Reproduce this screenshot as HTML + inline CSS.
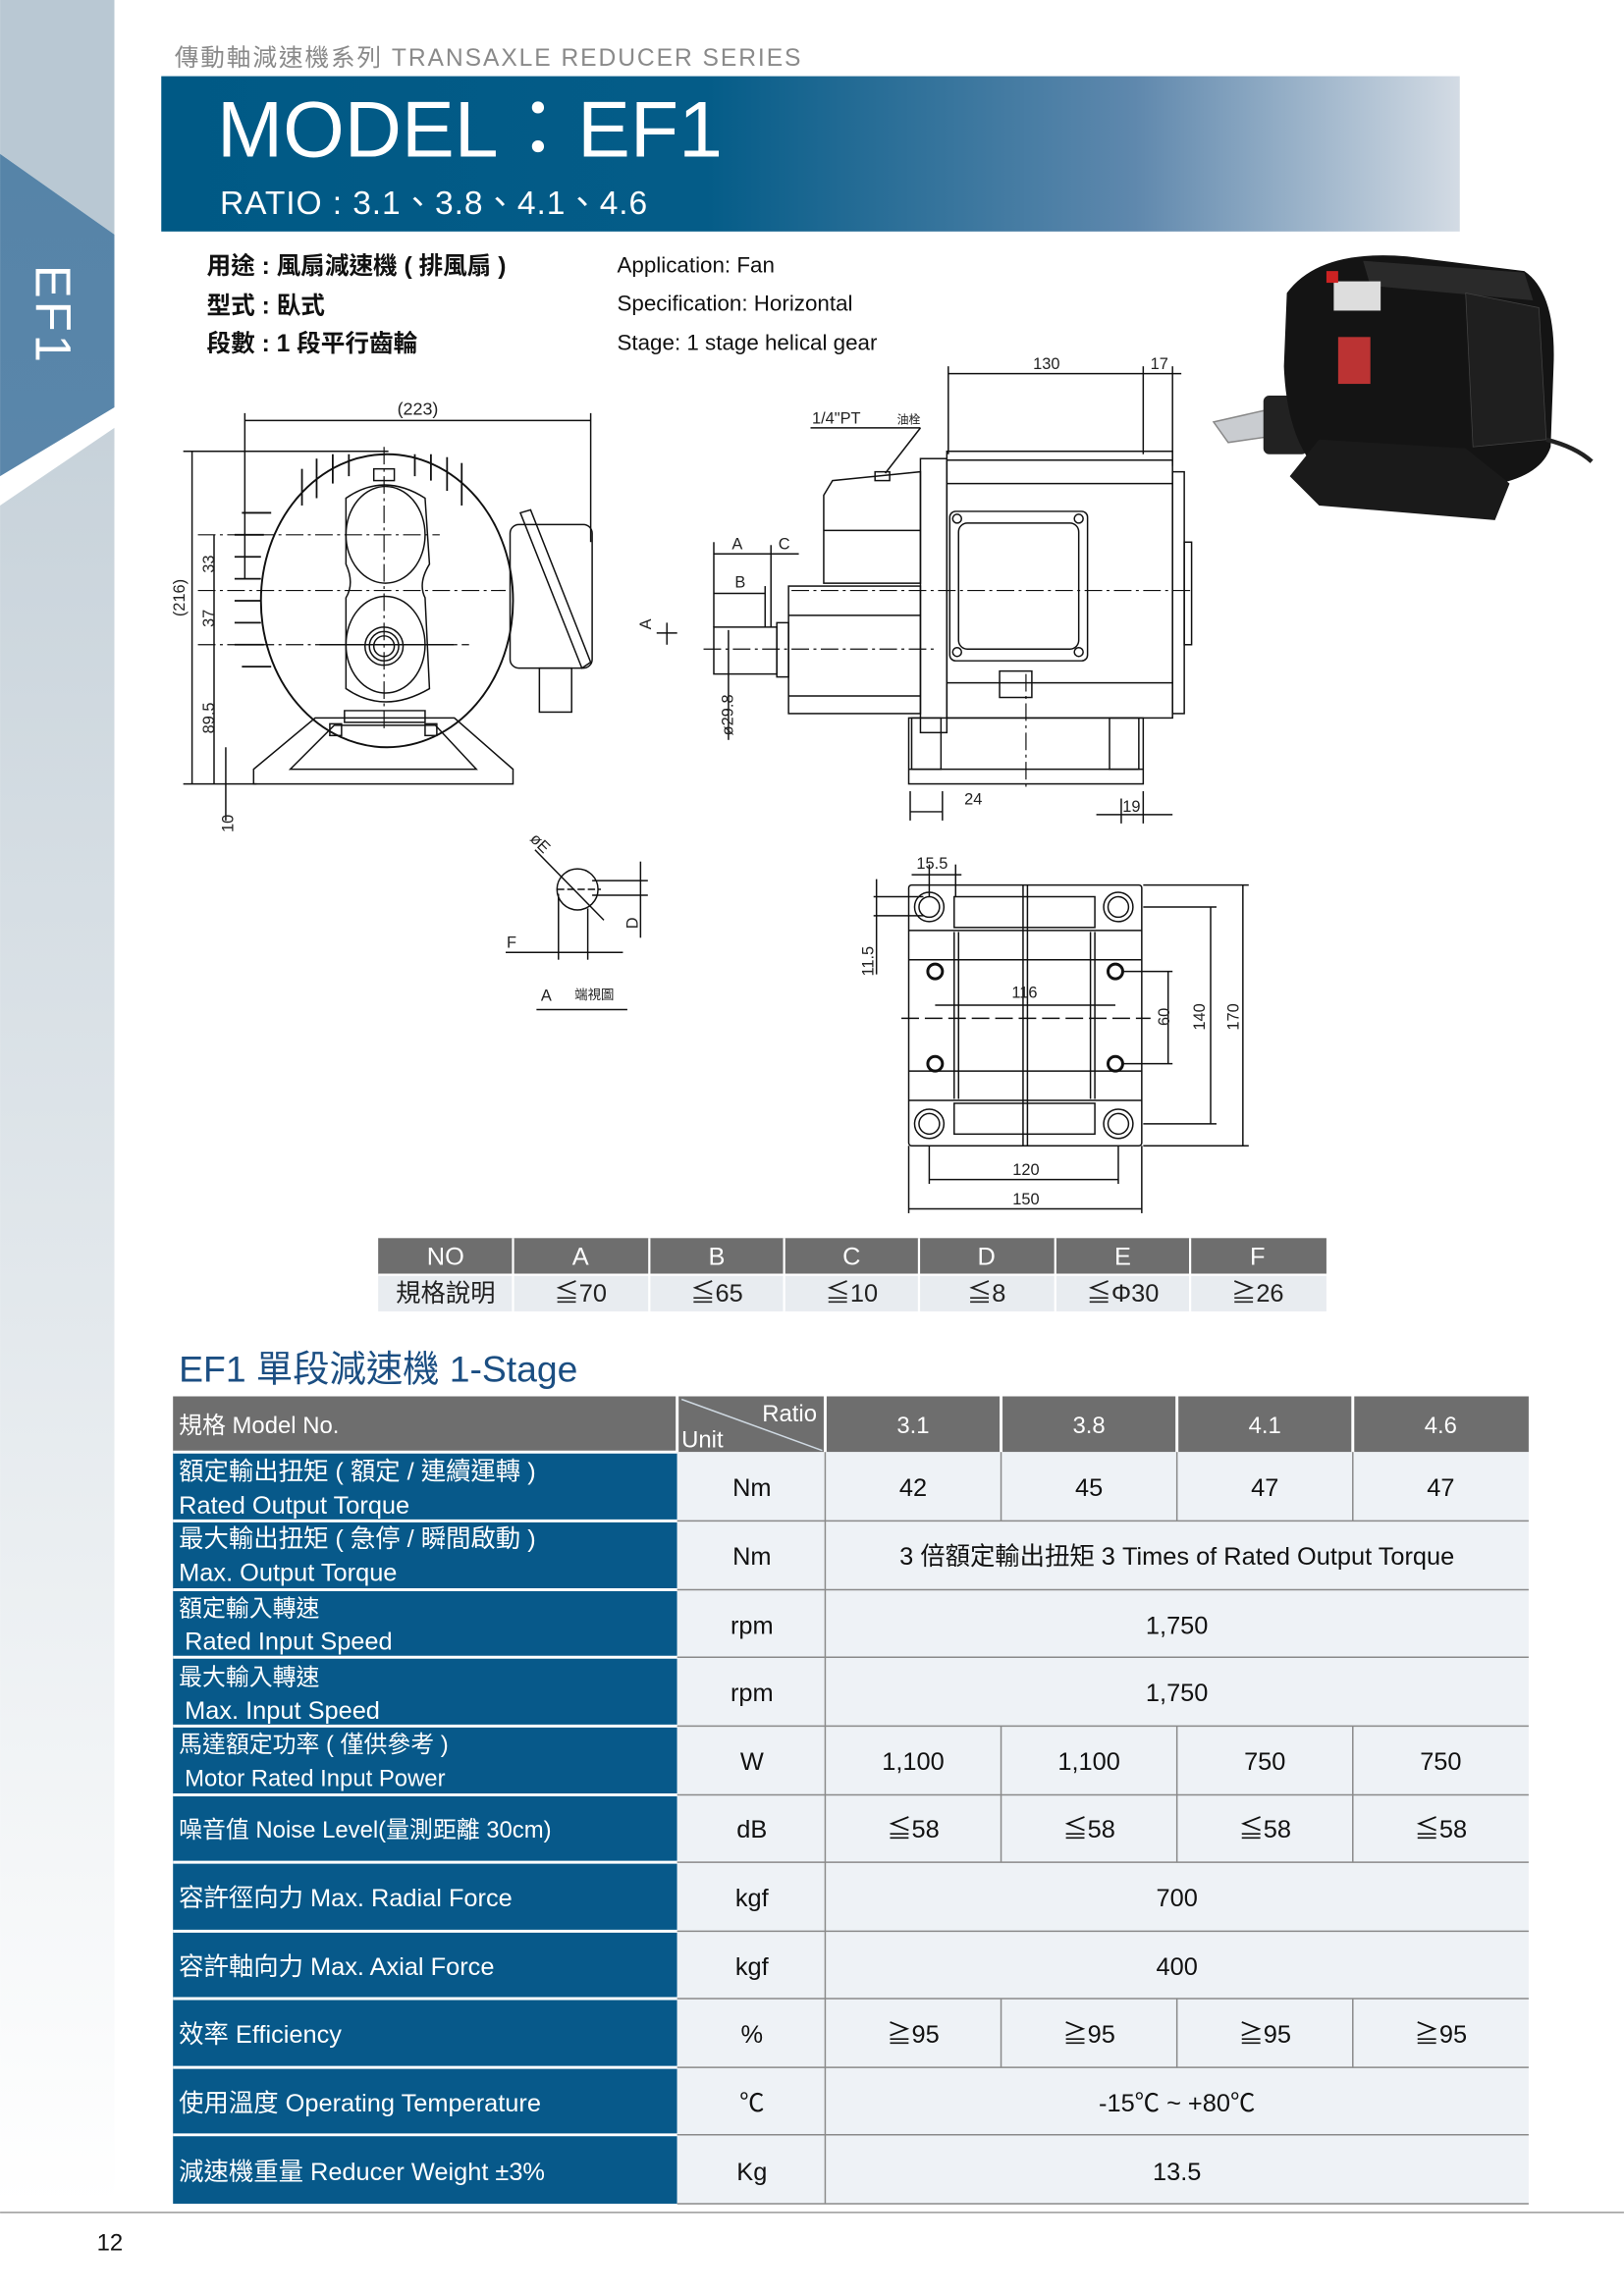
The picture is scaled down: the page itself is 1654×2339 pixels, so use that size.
<!DOCTYPE html>
<html><head><meta charset="utf-8"><style>
html,body{margin:0;padding:0;background:#fff}
svg{display:block}
text{font-family:"Liberation Sans","Noto Sans CJK TC",sans-serif}
</style></head><body>
<svg width="1654" height="2339" viewBox="0 0 1108 1567" xmlns="http://www.w3.org/2000/svg">
<defs>
<linearGradient id="ban" x1="0" x2="1" y1="0" y2="0">
<stop offset="0" stop-color="#005985"/><stop offset="0.42" stop-color="#045c88"/><stop offset="0.75" stop-color="#5f88ad"/><stop offset="1" stop-color="#d3dbe4"/></linearGradient>
<linearGradient id="side" x1="0" x2="0" y1="0" y2="1">
<stop offset="0" stop-color="#c7d2da"/><stop offset="1" stop-color="#ffffff"/></linearGradient>
<linearGradient id="sideb" x1="0" x2="0" y1="0" y2="1">
<stop offset="0" stop-color="#5684a8"/><stop offset="1" stop-color="#5a86aa"/></linearGradient>
</defs>
<polygon points="0,0 78,0 78,160 0,105" fill="#b9c8d3"/>
<polygon points="0,105 78,160 78,278 0,325" fill="url(#sideb)"/>
<polygon points="0,345 78,292 78,1505 0,1505" fill="url(#side)"/>
<text transform="translate(36,215) rotate(90)" font-size="34" fill="#fff" text-anchor="middle" dominant-baseline="central" letter-spacing="2">EF1</text>

<text x="119" y="45" font-size="16.5" fill="#8a8a8a" letter-spacing="1.3">傳動軸減速機系列 TRANSAXLE REDUCER SERIES</text>
<rect x="110" y="52" width="886" height="106" fill="url(#ban)"/>
<text x="148" y="107" font-size="54" fill="#fff">MODEL：EF1</text>
<text x="150" y="146" font-size="22.5" fill="#fff" letter-spacing="0.6">RATIO : 3.1、3.8、4.1、4.6</text>

<g font-size="16.5" font-weight="bold" fill="#111">
<text x="141" y="187">用途 : 風扇減速機 ( 排風扇 )</text>
<text x="141" y="214">型式 : 臥式</text>
<text x="141" y="240">段數 : 1 段平行齒輪</text>
</g>
<g font-size="15" fill="#111">
<text x="421" y="186">Application: Fan</text>
<text x="421" y="212">Specification: Horizontal</text>
<text x="421" y="239">Stage: 1 stage helical gear</text>
</g>

<g>
<path d="M828,288 L872,278 L880,296 L838,302 Z" fill="#c9ccd0" stroke="#888"/>
<rect x="862" y="270" width="30" height="40" rx="4" fill="#222"/>
<path d="M878,200 Q900,170 960,175 L1040,185 Q1062,200 1060,250 L1058,305 Q1050,330 1000,333 L900,322 Q878,300 876,250 Z" fill="#141414"/>
<path d="M930,178 L1040,186 L1046,205 L935,195 Z" fill="#2a2a2a"/>
<rect x="910" y="192" width="32" height="20" fill="#ddd"/>
<rect x="905" y="185" width="8" height="8" fill="#c22"/>
<rect x="913" y="230" width="22" height="32" fill="#b33"/>
<path d="M1000,200 L1050,210 L1055,300 L1005,305 Z" fill="#1f1f1f" stroke="#444" stroke-width="0.5"/>
<path d="M880,325 L900,300 L1000,306 L1030,330 L1020,355 L900,345 Z" fill="#1a1a1a"/>
<path d="M1055,300 Q1075,305 1086,315" stroke="#222" stroke-width="3" fill="none"/>
</g>

<g stroke="#111" stroke-width="1" fill="none">
<line x1="167" y1="287" x2="403" y2="287"/>
<line x1="167" y1="282" x2="167" y2="395"/><line x1="403" y1="282" x2="403" y2="370"/>
<text x="285" y="283" font-size="12" fill="#222" stroke="none" text-anchor="middle">(223)</text>
<g stroke-width="1.2">
<line x1="206" y1="320" x2="206" y2="345"/><line x1="216" y1="313" x2="216" y2="340"/><line x1="227" y1="310" x2="227" y2="330"/><line x1="238" y1="310" x2="238" y2="325"/><line x1="283" y1="310" x2="283" y2="325"/><line x1="294" y1="310" x2="294" y2="328"/><line x1="305" y1="312" x2="305" y2="335"/><line x1="315" y1="316" x2="315" y2="345"/>
<line x1="165" y1="350" x2="185" y2="350"/><line x1="160" y1="365" x2="180" y2="365"/><line x1="160" y1="380" x2="178" y2="380"/><line x1="160" y1="395" x2="178" y2="395"/><line x1="160" y1="410" x2="178" y2="410"/><line x1="160" y1="425" x2="178" y2="425"/><line x1="160" y1="440" x2="180" y2="440"/><line x1="165" y1="455" x2="185" y2="455"/>
</g>
<ellipse cx="264" cy="410" rx="86" ry="100" stroke-width="1.3"/>
<path d="M236,340 Q262,322 290,340 L293,385 Q285,398 290,408 L293,470 Q262,488 236,470 L236,408 Q242,398 236,385 Z"/>
<ellipse cx="263" cy="365" rx="27" ry="33"/>
<ellipse cx="263" cy="440" rx="27" ry="33"/>
<circle cx="262" cy="441" r="13"/><circle cx="262" cy="441" r="10"/><circle cx="262" cy="441" r="7"/>
<rect x="255" y="320" width="14" height="8"/>
<line x1="218" y1="440" x2="310" y2="440"/>
<rect x="348" y="358" width="56" height="98" rx="6"/>
<path d="M355,350 L362,348 L403,452 L397,456 Z"/>
<rect x="368" y="456" width="22" height="30"/>
<path d="M235,485 L290,485 L290,493 L235,493 Z"/>
<path d="M215,490 L310,490 L350,525 L350,535 L173,535 L173,525 Z"/>
<path d="M228,495 L297,495 L325,525 L198,525 Z"/>
<rect x="225" y="494" width="8" height="8"/><rect x="290" y="494" width="8" height="8"/>
<g stroke-dasharray="12,3,2,3" stroke-width="0.8">
<line x1="262" y1="305" x2="262" y2="500"/>
<line x1="135" y1="365" x2="300" y2="365"/>
<line x1="135" y1="403" x2="345" y2="403"/>
<line x1="135" y1="440" x2="320" y2="440"/>
</g>
<line x1="131" y1="308" x2="131" y2="535"/><line x1="125" y1="308" x2="265" y2="308"/>
<line x1="146" y1="365" x2="146" y2="535"/><line x1="125" y1="535" x2="175" y2="535"/>
<line x1="154" y1="510" x2="154" y2="560"/>
</g>
<g font-size="11" fill="#222" font-family="Liberation Mono,monospace">
<text transform="translate(126,408) rotate(-90)" text-anchor="middle">(216)</text>
<text transform="translate(146,385) rotate(-90)" text-anchor="middle">33</text>
<text transform="translate(146,422) rotate(-90)" text-anchor="middle">37</text>
<text transform="translate(146,490) rotate(-90)" text-anchor="middle">89.5</text>
<text transform="translate(159,562) rotate(-90)" text-anchor="middle">10</text>
</g>

<g stroke="#111" stroke-width="1" fill="none">
<line x1="647" y1="255" x2="780" y2="255"/><line x1="780" y1="255" x2="806" y2="255"/>
<line x1="647" y1="250" x2="647" y2="310"/><line x1="780" y1="250" x2="780" y2="310"/><line x1="800" y1="250" x2="800" y2="318"/>
<line x1="553" y1="292" x2="628" y2="292"/><line x1="628" y1="292" x2="604" y2="323"/>
<rect x="597" y="322" width="10" height="6"/>
<path d="M562,338 L568,328 L628,322 L628,398 L562,398 Z"/>
<line x1="562" y1="362" x2="628" y2="362"/>
<rect x="628" y="313" width="18" height="187"/>
<rect x="646" y="308" width="154" height="182"/>
<line x1="646" y1="314" x2="800" y2="314"/><line x1="646" y1="330" x2="800" y2="330"/><line x1="646" y1="466" x2="800" y2="466"/>
<rect x="648" y="349" width="94" height="102" rx="4"/><rect x="654" y="357" width="82" height="86" rx="6"/>
<circle cx="653" cy="354" r="3"/><circle cx="736" cy="354" r="3"/><circle cx="653" cy="445" r="3"/><circle cx="736" cy="445" r="3"/>
<rect x="800" y="322" width="8" height="165"/><rect x="808" y="370" width="5" height="70"/>
<rect x="538" y="400" width="90" height="87"/>
<line x1="538" y1="420" x2="628" y2="420"/><line x1="538" y1="475" x2="628" y2="475"/>
<rect x="530" y="425" width="8" height="37"/>
<rect x="487" y="428" width="43" height="32"/>
<rect x="682" y="458" width="22" height="18"/>
<rect x="620" y="490" width="160" height="45"/>
<line x1="620" y1="525" x2="780" y2="525"/><rect x="622" y="490" width="20" height="35"/><rect x="757" y="490" width="20" height="35"/>
<g stroke-dasharray="12,3,2,3" stroke-width="0.8">
<line x1="480" y1="443" x2="640" y2="443"/><line x1="540" y1="403" x2="815" y2="403"/><line x1="700" y1="460" x2="700" y2="540"/>
</g>
<line x1="487" y1="378" x2="526" y2="378"/><line x1="526" y1="378" x2="545" y2="378"/>
<line x1="487" y1="405" x2="522" y2="405"/>
<line x1="487" y1="370" x2="487" y2="428"/><line x1="526" y1="372" x2="526" y2="428"/><line x1="522" y1="400" x2="522" y2="428"/>
<line x1="497" y1="430" x2="497" y2="505"/>
<line x1="448" y1="432" x2="462" y2="432"/><line x1="455" y1="425" x2="455" y2="440"/>
<line x1="621" y1="554" x2="643" y2="554"/><line x1="621" y1="540" x2="621" y2="560"/><line x1="643" y1="540" x2="643" y2="560"/>
<line x1="748" y1="556" x2="800" y2="556"/><line x1="765" y1="545" x2="765" y2="562"/><line x1="780" y1="540" x2="780" y2="562"/>
</g>
<g font-size="11" fill="#222" font-family="Liberation Mono,monospace">
<text x="714" y="252" text-anchor="middle">130</text><text x="791" y="252" text-anchor="middle">17</text>
<text x="554" y="289">1/4"PT</text><text x="612" y="289" font-size="8">油栓</text>
<text x="503" y="375" text-anchor="middle">A</text><text x="535" y="375" text-anchor="middle">C</text>
<text x="505" y="401" text-anchor="middle">B</text>
<text transform="translate(444,426) rotate(-90)" text-anchor="middle">A</text>
<text transform="translate(500,488) rotate(-90)" text-anchor="middle">ø29.8</text>
<text x="664" y="549" text-anchor="middle">24</text><text x="772" y="554" text-anchor="middle">19</text>
</g>

<g stroke="#111" stroke-width="1" fill="none">
<circle cx="394" cy="607" r="14"/>
<line x1="365" y1="580" x2="412" y2="628"/>
<line x1="380" y1="607" x2="410" y2="607" stroke-dasharray="5,2"/>
<line x1="404" y1="601" x2="442" y2="601"/><line x1="404" y1="611" x2="442" y2="611"/>
<line x1="437" y1="588" x2="437" y2="640"/>
<line x1="381" y1="610" x2="381" y2="655"/><line x1="401" y1="620" x2="401" y2="655"/>
<line x1="345" y1="650" x2="425" y2="650"/>
<line x1="366" y1="689" x2="428" y2="689"/>
</g>
<g font-size="11" fill="#222" font-family="Liberation Mono,monospace">
<text transform="translate(366,578) rotate(45)" text-anchor="middle">øE</text>
<text x="349" y="647" text-anchor="middle">F</text>
<text transform="translate(435,630) rotate(-90)" text-anchor="middle">D</text>
<text x="369" y="683">A</text><text x="392" y="682" font-size="9">端視圖</text>
</g>

<g stroke="#111" stroke-width="1" fill="none">
<rect x="620" y="604" width="159" height="178" rx="2"/>
<line x1="620" y1="635" x2="779" y2="635"/><line x1="620" y1="751" x2="779" y2="751"/>
<line x1="620" y1="655" x2="779" y2="655"/><line x1="620" y1="731" x2="779" y2="731"/>
<rect x="651" y="612" width="96" height="21"/><rect x="651" y="753" width="96" height="21"/>
<line x1="651" y1="636" x2="651" y2="750"/><line x1="654" y1="636" x2="654" y2="750"/>
<line x1="744" y1="636" x2="744" y2="750"/><line x1="747" y1="636" x2="747" y2="750"/>
<line x1="698" y1="604" x2="698" y2="782"/><line x1="701" y1="604" x2="701" y2="782"/>
<circle cx="634" cy="619" r="7"/><circle cx="634" cy="619" r="10"/>
<circle cx="763" cy="619" r="7"/><circle cx="763" cy="619" r="10"/>
<circle cx="634" cy="767" r="7"/><circle cx="634" cy="767" r="10"/>
<circle cx="763" cy="767" r="7"/><circle cx="763" cy="767" r="10"/>
<circle cx="638" cy="663" r="5" stroke-width="2"/><circle cx="761" cy="663" r="5" stroke-width="2"/>
<circle cx="638" cy="726" r="5" stroke-width="2"/><circle cx="761" cy="726" r="5" stroke-width="2"/>
<line x1="615" y1="695" x2="785" y2="695" stroke-dasharray="12,4"/>
<line x1="622" y1="597" x2="656" y2="597"/><line x1="634" y1="590" x2="634" y2="612"/><line x1="652" y1="590" x2="652" y2="612"/>
<line x1="598" y1="600" x2="598" y2="665"/><line x1="596" y1="612" x2="630" y2="612"/><line x1="596" y1="625" x2="630" y2="625"/>
<line x1="638" y1="686" x2="761" y2="686"/>
<line x1="765" y1="663" x2="800" y2="663"/><line x1="765" y1="726" x2="800" y2="726"/><line x1="797" y1="663" x2="797" y2="726"/>
<line x1="780" y1="619" x2="830" y2="619"/><line x1="780" y1="767" x2="830" y2="767"/><line x1="826" y1="619" x2="826" y2="767"/>
<line x1="780" y1="604" x2="852" y2="604"/><line x1="780" y1="782" x2="852" y2="782"/><line x1="848" y1="604" x2="848" y2="782"/>
<line x1="634" y1="782" x2="634" y2="808"/><line x1="763" y1="782" x2="763" y2="808"/><line x1="634" y1="805" x2="763" y2="805"/>
<line x1="620" y1="782" x2="620" y2="828"/><line x1="779" y1="782" x2="779" y2="828"/><line x1="620" y1="825" x2="779" y2="825"/>
</g>
<g font-size="11" fill="#222" font-family="Liberation Mono,monospace">
<text x="636" y="593" text-anchor="middle">15.5</text>
<text transform="translate(596,656) rotate(-90)" text-anchor="middle">11.5</text>
<text x="699" y="681" text-anchor="middle">116</text>
<text transform="translate(798,694) rotate(-90)" text-anchor="middle">60</text>
<text transform="translate(822,694) rotate(-90)" text-anchor="middle">140</text>
<text transform="translate(845,694) rotate(-90)" text-anchor="middle">170</text>
<text x="700" y="802" text-anchor="middle">120</text>
<text x="700" y="822" text-anchor="middle">150</text>
</g>

<rect x="258" y="845" width="647" height="25" fill="#6e6e6e"/>
<rect x="258" y="870" width="647" height="25" fill="#e8ecf0"/>
<g stroke="#fff" stroke-width="1.5">
<line x1="350" y1="845" x2="350" y2="895"/><line x1="443" y1="845" x2="443" y2="895"/><line x1="535" y1="845" x2="535" y2="895"/><line x1="627" y1="845" x2="627" y2="895"/><line x1="720" y1="845" x2="720" y2="895"/><line x1="812" y1="845" x2="812" y2="895"/><line x1="258" y1="870" x2="905" y2="870"/>
</g>
<g font-size="17" fill="#fff" text-anchor="middle" dominant-baseline="central">
<text x="304" y="858">NO</text><text x="396" y="858">A</text><text x="489" y="858">B</text><text x="581" y="858">C</text><text x="673" y="858">D</text><text x="766" y="858">E</text><text x="858" y="858">F</text>
</g>
<g font-size="17" fill="#222" text-anchor="middle" dominant-baseline="central">
<text x="304" y="883">規格說明</text><text x="396" y="883">≦70</text><text x="489" y="883">≦65</text><text x="581" y="883">≦10</text><text x="673" y="883">≦8</text><text x="766" y="883">≦Φ30</text><text x="858" y="883">≧26</text>
</g>

<text x="122" y="943" font-size="25" fill="#1b4e82">EF1 單段減速機 1-Stage</text>

<rect x="118" y="953" width="925" height="38" fill="#6e6e6e"/>
<rect x="118" y="991" width="344" height="513" fill="#07598a"/>
<rect x="462" y="991" width="581" height="513" fill="#eef2f6"/>
<g stroke="#fff" stroke-width="2">
<line x1="118" y1="991" x2="462" y2="991"/><line x1="118" y1="1038" x2="462" y2="1038"/><line x1="118" y1="1085" x2="462" y2="1085"/><line x1="118" y1="1131" x2="462" y2="1131"/><line x1="118" y1="1178" x2="462" y2="1178"/><line x1="118" y1="1225" x2="462" y2="1225"/><line x1="118" y1="1271" x2="462" y2="1271"/><line x1="118" y1="1318" x2="462" y2="1318"/><line x1="118" y1="1364" x2="462" y2="1364"/><line x1="118" y1="1411" x2="462" y2="1411"/><line x1="118" y1="1457" x2="462" y2="1457"/>
<line x1="462" y1="953" x2="462" y2="991"/><line x1="563" y1="953" x2="563" y2="991"/><line x1="683" y1="953" x2="683" y2="991"/><line x1="803" y1="953" x2="803" y2="991"/><line x1="923" y1="953" x2="923" y2="991"/>
</g>
<line x1="465" y1="955" x2="561" y2="990" stroke="#cfd9e2" stroke-width="1"/>
<g stroke="#8a8a8a" stroke-width="1">
<line x1="462" y1="1038" x2="1043" y2="1038"/><line x1="462" y1="1085" x2="1043" y2="1085"/><line x1="462" y1="1131" x2="1043" y2="1131"/><line x1="462" y1="1178" x2="1043" y2="1178"/><line x1="462" y1="1225" x2="1043" y2="1225"/><line x1="462" y1="1271" x2="1043" y2="1271"/><line x1="462" y1="1318" x2="1043" y2="1318"/><line x1="462" y1="1364" x2="1043" y2="1364"/><line x1="462" y1="1411" x2="1043" y2="1411"/><line x1="462" y1="1457" x2="1043" y2="1457"/><line x1="462" y1="1504" x2="1043" y2="1504"/>
<line x1="563" y1="991" x2="563" y2="1504"/>
<line x1="683" y1="991" x2="683" y2="1038"/><line x1="803" y1="991" x2="803" y2="1038"/><line x1="923" y1="991" x2="923" y2="1038"/>
<line x1="683" y1="1178" x2="683" y2="1271"/><line x1="803" y1="1178" x2="803" y2="1271"/><line x1="923" y1="1178" x2="923" y2="1271"/>
<line x1="683" y1="1364" x2="683" y2="1411"/><line x1="803" y1="1364" x2="803" y2="1411"/><line x1="923" y1="1364" x2="923" y2="1411"/>
</g>
<g font-size="16" fill="#fff">
<text x="122" y="978">規格 Model No.</text>
<text x="520" y="970">Ratio</text><text x="465" y="988">Unit</text>
</g>
<g font-size="16" fill="#fff" text-anchor="middle">
<text x="623" y="978">3.1</text><text x="743" y="978">3.8</text><text x="863" y="978">4.1</text><text x="983" y="978">4.6</text>
</g>
<g font-size="17" fill="#fff">
<text x="122" y="1010">額定輸出扭矩 ( 額定 / 連續運轉 )</text><text x="122" y="1033">Rated Output Torque</text>
<text x="122" y="1056">最大輸出扭矩 ( 急停 / 瞬間啟動 )</text><text x="122" y="1079">Max. Output Torque</text>
<text x="122" y="1103" font-size="16">額定輸入轉速</text><text x="126" y="1126">Rated Input Speed</text>
<text x="122" y="1150" font-size="16">最大輸入轉速</text><text x="126" y="1173">Max. Input Speed</text>
<text x="122" y="1196" font-size="16">馬達額定功率 ( 僅供參考 )</text><text x="126" y="1219" font-size="16">Motor Rated Input Power</text>
<text x="122" y="1254" font-size="16">噪音值 Noise Level(量測距離 30cm)</text>
<text x="122" y="1301">容許徑向力 Max. Radial Force</text>
<text x="122" y="1348">容許軸向力 Max. Axial Force</text>
<text x="122" y="1394">效率 Efficiency</text>
<text x="122" y="1441">使用溫度 Operating Temperature</text>
<text x="122" y="1488">減速機重量 Reducer Weight ±3%</text>
</g>
<g font-size="17" fill="#111" text-anchor="middle">
<text x="513" y="1021">Nm</text><text x="623" y="1021">42</text><text x="743" y="1021">45</text><text x="863" y="1021">47</text><text x="983" y="1021">47</text>
<text x="513" y="1068">Nm</text><text x="803" y="1068">3 倍額定輸出扭矩 3 Times of Rated Output Torque</text>
<text x="513" y="1115">rpm</text><text x="803" y="1115">1,750</text>
<text x="513" y="1161">rpm</text><text x="803" y="1161">1,750</text>
<text x="513" y="1208">W</text><text x="623" y="1208">1,100</text><text x="743" y="1208">1,100</text><text x="863" y="1208">750</text><text x="983" y="1208">750</text>
<text x="513" y="1254">dB</text><text x="623" y="1254">≦58</text><text x="743" y="1254">≦58</text><text x="863" y="1254">≦58</text><text x="983" y="1254">≦58</text>
<text x="513" y="1301">kgf</text><text x="803" y="1301">700</text>
<text x="513" y="1348">kgf</text><text x="803" y="1348">400</text>
<text x="513" y="1394">%</text><text x="623" y="1394">≧95</text><text x="743" y="1394">≧95</text><text x="863" y="1394">≧95</text><text x="983" y="1394">≧95</text>
<text x="513" y="1441">℃</text><text x="803" y="1441">-15℃ ~ +80℃</text>
<text x="513" y="1488">Kg</text><text x="803" y="1488">13.5</text>
</g>

<line x1="0" y1="1510" x2="1108" y2="1510" stroke="#9a9a9a" stroke-width="1"/>
<text x="66" y="1536" font-size="16" fill="#111">12</text>
</svg>
</body></html>
